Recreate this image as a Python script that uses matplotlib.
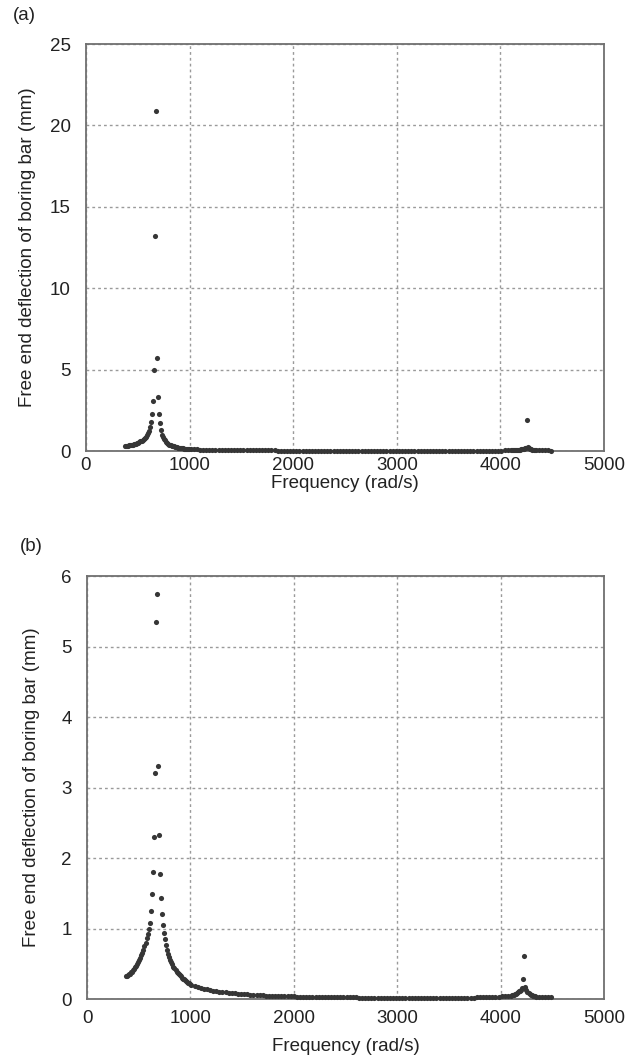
import numpy as np
import matplotlib
matplotlib.use("Agg")
import matplotlib.pyplot as plt

plt.rcParams['font.family'] = ['Liberation Sans', 'DejaVu Sans']

# frequency grid (rad/s) - same sampling for both panels
freq_low = np.arange(376, 1000, 10)     # 376 .. 996
freq_tail = np.arange(1010, 4101, 30)   # 1010 .. 4100
freq_res2 = np.arange(4110, 4341, 10)   # 4110 .. 4340
freq_end = np.arange(4370, 4491, 30)    # 4370 .. 4490

# (a) deflection values (mm)
defl_a_low = [0.30, 0.31, 0.32, 0.33, 0.34, 0.35, 0.37, 0.38, 0.40, 0.42,
              0.44, 0.46, 0.49, 0.52, 0.55, 0.59, 0.63, 0.68, 0.74, 0.80,
              0.88, 0.97, 1.08, 1.22, 1.45, 1.80, 2.30, 3.10, 5.00, 13.2,
              20.9, 5.70, 3.30, 2.30, 1.75, 1.30, 1.00, 0.85, 0.74, 0.65,
              0.57, 0.50, 0.45, 0.40, 0.36, 0.33, 0.30, 0.28, 0.26, 0.24,
              0.225, 0.21, 0.20, 0.19, 0.18, 0.17, 0.16, 0.152, 0.145, 0.138,
              0.132, 0.126, 0.12]
defl_a_tail = [0.115, 0.107, 0.100, 0.094, 0.088, 0.083, 0.078, 0.074, 0.070, 0.066,
               0.063, 0.060, 0.057, 0.055, 0.052, 0.050, 0.048, 0.046, 0.044, 0.043,
               0.041, 0.040, 0.038, 0.037, 0.036, 0.035, 0.034, 0.033, 0.032, 0.031,
               0.030, 0.030, 0.029, 0.028,
               0.027, 0.027, 0.026, 0.025, 0.025, 0.024, 0.024, 0.023, 0.023, 0.022,
               0.022, 0.021, 0.021, 0.020, 0.020, 0.020, 0.019, 0.019, 0.019, 0.018,
               0.018, 0.018, 0.017, 0.017, 0.017, 0.016, 0.016, 0.016, 0.016, 0.015,
               0.015, 0.015, 0.015, 0.015, 0.014, 0.014, 0.014, 0.014, 0.014, 0.014,
               0.014, 0.014, 0.014, 0.014, 0.014, 0.014, 0.015, 0.015, 0.015, 0.015,
               0.016, 0.016, 0.017, 0.017, 0.018, 0.018, 0.019, 0.020, 0.021, 0.022,
               0.023, 0.024, 0.025, 0.027, 0.028, 0.030, 0.032, 0.034, 0.037, 0.040]
defl_a_res2 = [0.043, 0.047, 0.051, 0.056, 0.062, 0.068, 0.075, 0.083, 0.092, 0.10,
               0.11, 0.125, 0.145, 0.17, 0.21, 1.90, 0.26, 0.17, 0.13, 0.10,
               0.085, 0.072, 0.062, 0.054]
defl_a_end = [0.045, 0.040, 0.036, 0.033, 0.030]

# (b) deflection values (mm)
defl_b_low = [0.32, 0.33, 0.34, 0.35, 0.36, 0.38, 0.39, 0.41, 0.43, 0.45,
              0.47, 0.50, 0.52, 0.55, 0.58, 0.62, 0.66, 0.70, 0.75, 0.80,
              0.86, 0.92, 0.99, 1.08, 1.25, 1.49, 1.80, 2.30, 3.20, 5.35,
              5.75, 3.30, 2.32, 1.77, 1.44, 1.20, 1.05, 0.94, 0.85, 0.77,
              0.70, 0.645, 0.60, 0.56, 0.52, 0.49, 0.46, 0.435, 0.41, 0.39,
              0.37, 0.35, 0.335, 0.32, 0.305, 0.29, 0.278, 0.266, 0.255, 0.244,
              0.234, 0.224, 0.215]
defl_b_tail = [0.205, 0.188, 0.173, 0.160, 0.148, 0.138, 0.128, 0.120, 0.112, 0.105,
               0.099, 0.093, 0.088, 0.083, 0.079, 0.075, 0.071, 0.068, 0.065, 0.062,
               0.059, 0.057, 0.054, 0.052, 0.050, 0.048, 0.046, 0.044, 0.043, 0.041,
               0.040, 0.039, 0.037, 0.036,
               0.035, 0.034, 0.033, 0.032, 0.031, 0.030, 0.029, 0.029, 0.028, 0.027,
               0.027, 0.026, 0.025, 0.025, 0.024, 0.024, 0.023, 0.023, 0.022, 0.022,
               0.021, 0.021, 0.020, 0.020, 0.020, 0.019, 0.019, 0.019, 0.018, 0.018,
               0.018, 0.018, 0.017, 0.017, 0.017, 0.017, 0.017, 0.016, 0.016, 0.016,
               0.016, 0.016, 0.016, 0.016, 0.016, 0.016, 0.016, 0.017, 0.017, 0.017,
               0.017, 0.018, 0.018, 0.019, 0.019, 0.020, 0.020, 0.021, 0.022, 0.023,
               0.024, 0.025, 0.027, 0.029, 0.031, 0.034, 0.037, 0.040, 0.044, 0.048]
defl_b_res2 = [0.052, 0.057, 0.063, 0.070, 0.078, 0.087, 0.097, 0.108, 0.120, 0.135,
               0.155, 0.28, 0.61, 0.17, 0.125, 0.10, 0.083, 0.070, 0.060, 0.052,
               0.046, 0.041, 0.037, 0.034]
defl_b_end = [0.030, 0.028, 0.026, 0.024, 0.022]

x_ticks = [0, 1000, 2000, 3000, 4000, 5000]
y_ticks_a = [0, 5, 10, 15, 20, 25]
y_ticks_b = [0, 1, 2, 3, 4, 5, 6]

freq = np.concatenate([freq_low, freq_tail, freq_res2, freq_end])
defl_a = np.concatenate([defl_a_low, defl_a_tail, defl_a_res2, defl_a_end])
defl_b = np.concatenate([defl_b_low, defl_b_tail, defl_b_res2, defl_b_end])

fig = plt.figure(figsize=(6.3, 10.61), dpi=100)
ax_a = fig.add_axes([0.1365, 0.5749, 0.8222, 0.3836])
ax_b = fig.add_axes([0.1381, 0.0584, 0.8206, 0.3987])

FS = 13.5


def style_axis(ax, y_ticks, xpad, xlabelpad, ylabelpad):
    ax.set_xlim(0, 5000)
    ax.set_ylim(y_ticks[0], y_ticks[-1])
    ax.set_xticks(x_ticks)
    ax.set_yticks(y_ticks)
    ax.grid(True, color='#9a9a9a', linestyle=(0, (2, 2.2)), linewidth=1.0)
    ax.set_axisbelow(True)
    for s in ax.spines.values():
        s.set_color('#707070')
        s.set_linewidth(1.3)
    ax.tick_params(length=0, labelsize=FS, colors='#222222')
    ax.tick_params(axis='y', pad=11)
    ax.tick_params(axis='x', pad=xpad)
    ax.set_xlabel("Frequency (rad/s)", fontsize=FS, color='#222222', labelpad=xlabelpad)
    ax.set_ylabel("Free end deflection of boring bar (mm)", fontsize=FS,
                  color='#222222', labelpad=ylabelpad)


style_axis(ax_a, y_ticks_a, 4, 1, 10)
style_axis(ax_b, y_ticks_b, 8, 8, 15)

for ax, d in [(ax_a, defl_a), (ax_b, defl_b)]:
    ax.plot(freq, d, linestyle='none', marker='o', markersize=3.7,
            color='#363636', markeredgewidth=0, clip_on=False, zorder=3)

fig.text(0.021, 0.985, "(a)", fontsize=FS, color='#222222', va='center')
fig.text(0.032, 0.485, "(b)", fontsize=FS, color='#222222', va='center')

fig.savefig("out.png", dpi=100)
